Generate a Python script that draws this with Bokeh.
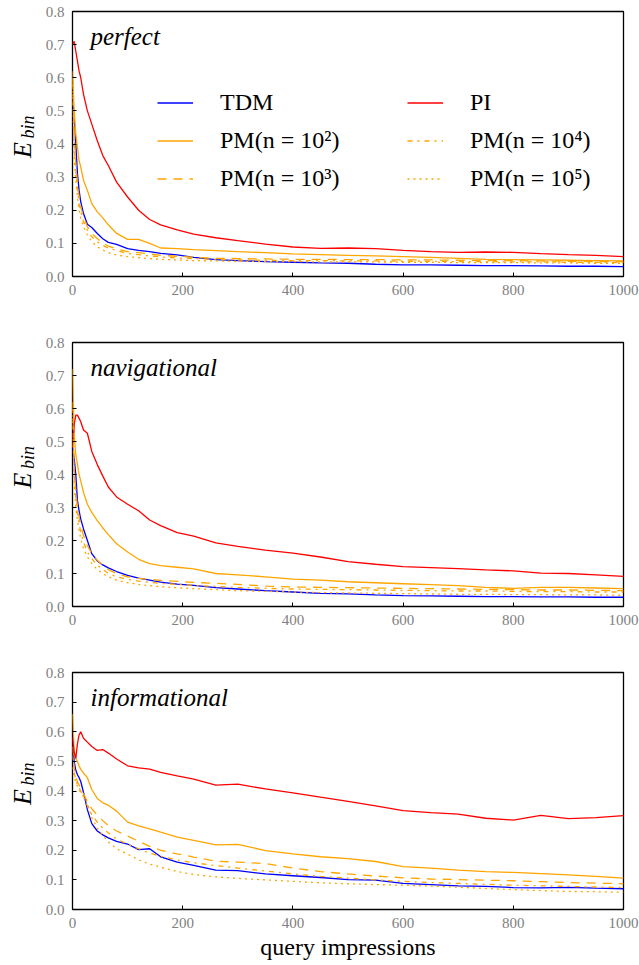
from math import pi
from bokeh.plotting import figure
from bokeh.models import Range1d, FixedTicker, Label, Legend, LegendItem, PrintfTickFormatter
from bokeh.layouts import column, row
from bokeh.embed import file_html
from bokeh.resources import INLINE

# ---------------- data ----------------
X = [0, 3, 6, 9, 12, 15, 20, 27, 35, 45, 55, 65, 80, 100, 120, 140, 160, 190, 220, 260,
     300, 350, 400, 450, 500, 550, 600, 650, 700, 750, 800, 850, 900, 950, 1000]

X_TICKS = [0, 200, 400, 600, 800, 1000]
Y_TICKS = [0.0, 0.1, 0.2, 0.3, 0.4, 0.5, 0.6, 0.7, 0.8]

SERIES_NAMES = ["TDM", "PM(n = 10²)", "PM(n = 10³)", "PI", "PM(n = 10⁴)", "PM(n = 10⁵)"]
PANEL_TITLES = ["perfect", "navigational", "informational"]
Y_LABEL_MAIN, Y_LABEL_SUB = "E", "bin"
X_LABEL = "query impressions"

# perfect
PERF_TDM = [.55, .48, .40, .31, .26, .225, .19, .158, .148, .13, .114, .103, .097, .084, .079, .075, .070, .065, .058, .051,
            .048, .045, .043, .041, .040, .037, .035, .035, .034, .033, .033, .032, .031, .031, .030]
PERF_PI = [.70, .71, .68, .65, .62, .60, .55, .50, .46, .41, .365, .335, .285, .24, .20, .172, .156, .141, .128, .117,
           .108, .098, .089, .085, .086, .084, .079, .075, .073, .074, .073, .069, .066, .064, .060]
PERF_PM2 = [.62, .50, .43, .39, .35, .33, .29, .26, .22, .195, .177, .156, .130, .112, .112, .100, .086, .084, .081, .078,
            .075, .072, .068, .066, .064, .062, .060, .058, .055, .052, .051, .050, .049, .048, .047]
PERF_PM3 = [.60, .42, .34, .28, .24, .21, .18, .15, .13, .115, .10, .092, .083, .075, .072, .068, .064, .061, .058, .055,
            .054, .053, .052, .052, .051, .051, .050, .050, .049, .048, .048, .047, .046, .045, .045]
PERF_PM4 = [.58, .40, .32, .26, .22, .195, .165, .14, .12, .105, .094, .086, .078, .070, .066, .062, .059, .056, .054, .052,
            .050, .049, .048, .048, .047, .047, .046, .046, .045, .045, .044, .044, .043, .043, .042]
PERF_PM5 = [.56, .36, .29, .24, .20, .175, .15, .125, .105, .09, .08, .072, .065, .060, .057, .054, .052, .050, .048, .047,
            .046, .045, .045, .044, .044, .044, .043, .043, .042, .042, .042, .041, .041, .040, .040]

# navigational
NAV_TDM = [.48, .45, .40, .32, .29, .265, .235, .20, .16, .138, .126, .117, .106, .094, .086, .080, .074, .068, .064, .057,
           .053, .048, .044, .040, .038, .035, .033, .032, .031, .030, .030, .029, .029, .028, .028]
NAV_PI = [.48, .55, .58, .58, .57, .56, .535, .525, .47, .43, .395, .362, .332, .31, .29, .262, .245, .224, .213, .193,
          .182, .171, .162, .150, .136, .128, .121, .118, .115, .111, .108, .101, .100, .096, .091]
NAV_PM2 = [.72, .52, .46, .43, .40, .38, .345, .31, .285, .26, .238, .218, .19, .165, .143, .13, .124, .119, .114, .10,
           .096, .09, .083, .080, .075, .072, .069, .066, .063, .058, .055, .058, .058, .056, .054]
NAV_PM3 = [.62, .42, .35, .30, .27, .245, .215, .185, .16, .14, .125, .112, .10, .09, .085, .082, .079, .076, .073, .07,
           .067, .062, .059, .058, .057, .056, .055, .054, .053, .052, .051, .050, .050, .049, .048]
NAV_PM4 = [.60, .40, .33, .28, .25, .225, .195, .165, .145, .125, .112, .10, .09, .082, .077, .073, .070, .067, .064, .061,
           .058, .055, .053, .052, .051, .050, .049, .048, .047, .047, .046, .045, .045, .044, .044]
NAV_PM5 = [.58, .37, .30, .26, .23, .205, .175, .15, .13, .112, .10, .09, .08, .072, .067, .063, .060, .057, .054, .051,
           .048, .046, .044, .042, .041, .040, .039, .038, .037, .037, .036, .036, .035, .035, .034]

# informational
INF_TDM = [.58, .50, .47, .455, .445, .432, .395, .337, .29, .265, .252, .242, .230, .221, .202, .205, .178, .160, .149, .133,
           .131, .120, .114, .108, .101, .099, .088, .084, .080, .078, .074, .073, .075, .072, .070]
INF_PI = [.58, .53, .51, .56, .59, .60, .578, .565, .55, .537, .540, .528, .508, .485, .478, .474, .463, .451, .440, .420,
          .423, .407, .394, .379, .365, .350, .334, .327, .322, .308, .302, .318, .307, .310, .317]
INF_PM2 = [.66, .54, .51, .50, .485, .473, .46, .445, .405, .375, .36, .352, .332, .295, .282, .272, .261, .244, .233, .218,
           .220, .199, .188, .178, .172, .162, .145, .140, .133, .128, .125, .121, .117, .112, .106]
INF_PM3 = [.55, .48, .45, .43, .42, .41, .39, .365, .34, .318, .30, .283, .265, .248, .23, .213, .20, .188, .177, .163,
           .16, .155, .140, .128, .120, .113, .107, .103, .101, .099, .097, .094, .091, .089, .087]
INF_PM4 = [.52, .46, .44, .42, .41, .40, .38, .35, .32, .295, .275, .258, .238, .22, .205, .19, .18, .167, .158, .148,
           .14, .13, .12, .112, .106, .100, .095, .091, .088, .085, .082, .080, .078, .076, .074]
INF_PM5 = [.48, .45, .43, .415, .405, .395, .38, .36, .31, .275, .25, .228, .205, .187, .168, .153, .143, .128, .118, .110,
           .105, .100, .095, .090, .087, .084, .082, .079, .075, .071, .067, .064, .061, .060, .058]

PANELS = [
    [PERF_TDM, PERF_PM2, PERF_PM3, PERF_PI, PERF_PM4, PERF_PM5],
    [NAV_TDM, NAV_PM2, NAV_PM3, NAV_PI, NAV_PM4, NAV_PM5],
    [INF_TDM, INF_PM2, INF_PM3, INF_PI, INF_PM4, INF_PM5],
]

# ---------------- styling ----------------
COLORS = ["#0000ff", "#ffa500", "#ffa500", "#ff0000", "#ffa500", "#ffa500"]
DASHES = ["solid", "solid", "9 7", "solid", "5 5 2 5", "2 4"]
SERIF = "Liberation Serif"
TICK_COLOR = "#808080"

LABEL_W = 40
FRAME_W = 551
LEFT, RIGHT = 32, 16
FRAME_H = [265, 264, 237]
TOPS = [11, 26, 26]
BOTTOMS = [40, 40, 54]


def make_label_fig(i):
    fh = FRAME_H[i]
    q = figure(frame_width=LABEL_W, frame_height=fh,
               min_border_left=0, min_border_right=0,
               min_border_top=TOPS[i], min_border_bottom=BOTTOMS[i],
               x_range=Range1d(0, LABEL_W), y_range=Range1d(0, fh),
               x_axis_location=None, y_axis_location=None,
               output_backend="svg", toolbar_location=None,
               background_fill_color="white", border_fill_color="white")
    q.grid.visible = False
    q.outline_line_color = None
    q.add_layout(Label(x=22, y=fh / 2 - 6, text=Y_LABEL_MAIN, angle=pi / 2,
                       text_font=SERIF, text_font_style="italic", text_font_size="26px",
                       text_color="black", text_align="center", text_baseline="middle"))
    q.add_layout(Label(x=27, y=fh / 2 + 17, text=Y_LABEL_SUB, angle=pi / 2,
                       text_font=SERIF, text_font_style="italic", text_font_size="18px",
                       text_color="black", text_align="center", text_baseline="middle"))
    return q


def make_panel(i):
    fh = FRAME_H[i]
    p = figure(frame_width=FRAME_W, frame_height=fh,
               min_border_left=LEFT, min_border_right=RIGHT,
               min_border_top=TOPS[i], min_border_bottom=BOTTOMS[i],
               x_range=Range1d(0, 1000), y_range=Range1d(0, 0.8),
               output_backend="svg", toolbar_location=None,
               background_fill_color="white", border_fill_color="white")
    p.grid.visible = False
    p.outline_line_color = "black"
    p.outline_line_width = 1.3

    for ax in (p.xaxis[0], p.yaxis[0]):
        ax.axis_line_color = None
        ax.major_tick_in = 4
        ax.major_tick_out = 0
        ax.major_tick_line_color = "black"
        ax.minor_tick_line_color = None
        ax.major_label_text_font = SERIF
        ax.major_label_text_font_size = "15px"
        ax.major_label_text_color = TICK_COLOR
        ax.major_label_standoff = 8
    p.xaxis.ticker = FixedTicker(ticks=X_TICKS)
    p.yaxis.ticker = FixedTicker(ticks=Y_TICKS)
    p.yaxis.formatter = PrintfTickFormatter(format="%.1f")

    renderers = []
    for vals, col, dash in zip(PANELS[i], COLORS, DASHES):
        r = p.line(X, vals, line_color=col, line_width=1.3, line_dash=dash)
        renderers.append(r)

    if i == 2:
        p.xaxis.axis_label = X_LABEL
        p.xaxis.axis_label_text_font = SERIF
        p.xaxis.axis_label_text_font_style = "normal"
        p.xaxis.axis_label_text_font_size = "24px"
        p.xaxis.axis_label_text_color = "black"
        p.xaxis.axis_label_standoff = 3

    # panel title
    p.add_layout(Label(x=18, y=fh - 25, x_units="screen", y_units="screen",
                       text=PANEL_TITLES[i], text_font=SERIF,
                       text_font_style="italic", text_font_size="25px",
                       text_color="black", text_baseline="alphabetic", text_align="left"))

    if i == 0:
        for cols, xloc in (([0, 1, 2], 85), ([3, 4, 5], 335)):
            items = [LegendItem(label=SERIES_NAMES[k], renderers=[renderers[k]]) for k in cols]
            leg = Legend(items=items, location=(xloc, 84), orientation="vertical",
                         border_line_color=None, background_fill_alpha=0,
                         padding=0, margin=0, spacing=11,
                         glyph_width=36, glyph_height=25, label_height=25,
                         label_standoff=27, label_text_font=SERIF,
                         label_text_font_size="24px", label_text_color="black")
            p.add_layout(leg)
    return p


rows = [row(make_label_fig(i), make_panel(i), spacing=0) for i in range(3)]
layout = column(*rows, spacing=0)

open("out.html", "w").write(file_html(layout, INLINE))
